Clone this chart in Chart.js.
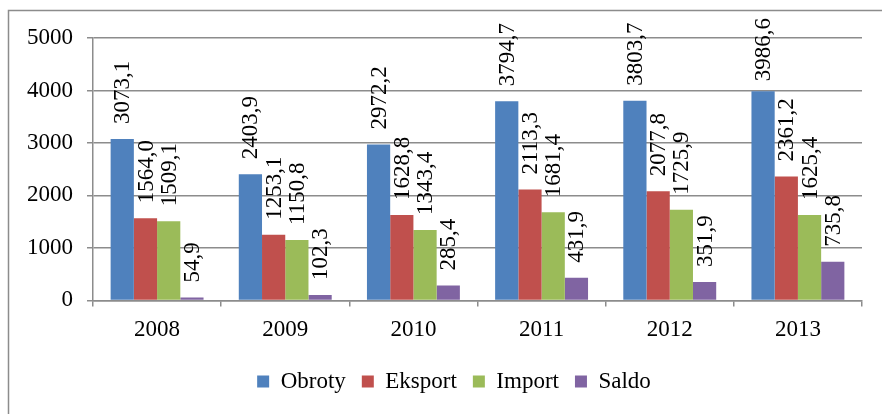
<!DOCTYPE html>
<html>
<head>
<meta charset="utf-8">
<script src="https://cdn.jsdelivr.net/npm/chart.js@4/dist/chart.umd.min.js"></script>
<style>
    body { margin: 0; background: #fff; }
    canvas { display: block; }
</style>
</head>
<body>
<canvas id="myChart" width="882" height="414"></canvas>
<script>
// Chart data
const years = ['2008', '2009', '2010', '2011', '2012', '2013'];
const obroty = [3073.1, 2403.9, 2972.2, 3794.7, 3803.7, 3986.6];
const eksport = [1564.0, 1253.1, 1628.8, 2113.3, 2077.8, 2361.2];
const importData = [1509.1, 1150.8, 1343.4, 1681.4, 1725.9, 1625.4];
const saldo = [54.9, 102.3, 285.4, 431.9, 351.9, 735.8];
const yTicks = [0, 1000, 2000, 3000, 4000, 5000];

const FONT = '"Liberation Serif", "Times New Roman", serif';
const GRID = '#8c8c8c';

// Outer frame (top and left edge of the picture box)
const framePlugin = {
    id: 'frame',
    beforeDraw(chart) {
        const ctx = chart.ctx;
        ctx.save();
        ctx.strokeStyle = '#8c8c8c';
        ctx.lineWidth = 1.5;
        ctx.beginPath();
        ctx.moveTo(8.5, chart.height);
        ctx.lineTo(8.5, 10.5);
        ctx.lineTo(chart.width, 10.5);
        ctx.stroke();
        ctx.restore();
    }
};

// Legend sits a bit right of the canvas centre
const legendShift = {
    id: 'legendShift',
    afterLayout(chart) {
        chart.legend.left += 13;
        chart.legend.right += 13;
    }
};

// Vertical value labels above each bar
const valueLabels = {
    id: 'valueLabels',
    afterDatasetsDraw(chart) {
        const ctx = chart.ctx;
        ctx.save();
        ctx.font = '23px ' + FONT;
        ctx.fillStyle = '#000';
        ctx.textAlign = 'left';
        ctx.textBaseline = 'middle';
        chart.data.datasets.forEach((ds, i) => {
            chart.getDatasetMeta(i).data.forEach((bar, j) => {
                const text = ds.data[j].toFixed(1).replace('.', ',');
                const w = ctx.measureText(text).width;
                let start = bar.y - 15;
                if (start - w < 18) start = 18 + w;
                ctx.save();
                ctx.translate(bar.x + 1, start);
                ctx.rotate(-Math.PI / 2);
                ctx.fillText(text, 0, 0);
                ctx.restore();
            });
        });
        ctx.restore();
    }
};

const ctx = document.getElementById('myChart').getContext('2d');
new Chart(ctx, {
    type: 'bar',
    data: {
        labels: years,
        datasets: [
            { label: 'Obroty', data: obroty, backgroundColor: '#4F81BD', borderWidth: 0 },
            { label: 'Eksport', data: eksport, backgroundColor: '#C0504D', borderWidth: 0 },
            { label: 'Import', data: importData, backgroundColor: '#9BBB59', borderWidth: 0 },
            { label: 'Saldo', data: saldo, backgroundColor: '#8064A2', borderWidth: 0 }
        ]
    },
    options: {
        responsive: false,
        animation: false,
        datasets: {
            bar: { categoryPercentage: 0.725, barPercentage: 1 }
        },
        layout: {
            padding: { left: 20, right: 20, top: 38, bottom: 11 }
        },
        plugins: {
            tooltip: { enabled: false },
            legend: {
                position: 'bottom',
                labels: {
                    boxWidth: 12,
                    boxHeight: 12,
                    padding: 16,
                    color: '#000',
                    font: { family: FONT, size: 23 }
                }
            }
        },
        scales: {
            x: {
                grid: {
                    offset: true,
                    drawOnChartArea: false,
                    tickLength: 6,
                    color: GRID,
                    lineWidth: 1.5
                },
                border: { color: GRID, width: 1.5 },
                ticks: {
                    color: '#000',
                    padding: 10,
                    font: { family: FONT, size: 23 }
                }
            },
            y: {
                min: yTicks[0],
                max: yTicks[yTicks.length - 1],
                afterFit(scale) { scale.width = 73; },
                afterBuildTicks(scale) { scale.ticks = yTicks.map(v => ({ value: v })); },
                grid: { color: GRID, lineWidth: 1.5, tickLength: 6 },
                border: { color: GRID, width: 1.5 },
                ticks: {
                    color: '#000',
                    padding: 14,
                    font: { family: FONT, size: 23 },
                    callback: value => String(value)
                }
            }
        }
    },
    plugins: [framePlugin, legendShift, valueLabels]
});
</script>
</body>
</html>
